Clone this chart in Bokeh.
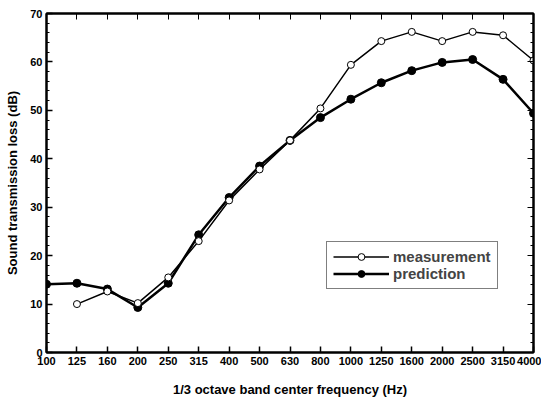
from bokeh.plotting import figure
from bokeh.models import FixedTicker, LinearAxis, Legend, LegendItem, Range1d, CustomJSTickFormatter
from bokeh.embed import file_html
from bokeh.resources import INLINE

freqs = ["100", "125", "160", "200", "250", "315", "400", "500", "630", "800",
         "1000", "1250", "1600", "2000", "2500", "3150", "4000"]
meas_freqs = freqs[1:]
measurement = [10.0, 12.6, 10.2, 15.5, 23.0, 31.4, 37.8, 43.8, 50.4,
               59.4, 64.3, 66.2, 64.3, 66.2, 65.5, 60.3]
prediction = [14.1, 14.3, 13.1, 9.3, 14.3, 24.3, 32.0, 38.5, 43.8, 48.5,
              52.3, 55.7, 58.2, 59.9, 60.5, 56.4, 49.4]

FONT = "Liberation Sans"
xidx = {f: i for i, f in enumerate(freqs)}
mx = [xidx[f] for f in meas_freqs]
px = [xidx[f] for f in freqs]

p = figure(width=541, height=399, output_backend="svg", toolbar_location=None,
           x_range=Range1d(0, len(freqs) - 1), y_range=Range1d(0, 70),
           min_border_left=46, min_border_right=8, min_border_top=13, min_border_bottom=46)
p.grid.visible = False
p.outline_line_color = "black"
p.outline_line_width = 2
p.background_fill_color = "white"
p.border_fill_color = "white"

ll = p.line(px, prediction, line_color="black", line_width=2.5)
ls = p.scatter(px, prediction, size=8, fill_color="black", line_color="black")
ml = p.line(mx, measurement, line_color="black", line_width=1.5)
ms = p.scatter(mx, measurement, size=7, fill_color="white", line_color="black", line_width=1)

xt = FixedTicker(ticks=list(range(len(freqs))), minor_ticks=[])
yt = FixedTicker(ticks=list(range(0, 71, 10)), minor_ticks=list(range(0, 71, 2)))

overrides = {i: f for i, f in enumerate(freqs)}
for ax in p.xaxis:
    ax.ticker = xt
    ax.major_label_overrides = overrides
for ax in p.yaxis:
    ax.ticker = yt

for ax in list(p.xaxis) + list(p.yaxis):
    ax.axis_line_width = 2
    ax.major_tick_in = 6
    ax.major_tick_out = 0
    ax.minor_tick_in = 3
    ax.minor_tick_out = 0
    ax.major_tick_line_width = 1.5
    ax.major_label_text_font = FONT
    ax.major_label_text_font_style = "bold"
    ax.major_label_text_font_size = "11px"
    ax.major_label_text_color = "black"
    ax.axis_label_text_font = FONT
    ax.axis_label_text_font_style = "bold"
    ax.axis_label_text_font_size = "13px"
    ax.axis_label_text_color = "black"
    ax.major_label_standoff = 4

p.xaxis.axis_label = "1/3 octave band center frequency (Hz)"
p.yaxis.axis_label = "Sound transmission loss (dB)"
p.xaxis.axis_label_standoff = 14
p.yaxis.axis_label_standoff = 7

blank = CustomJSTickFormatter(code="return '';")
right = LinearAxis(ticker=yt, formatter=blank, major_tick_in=6, major_tick_out=0,
                   minor_tick_in=3, minor_tick_out=0, axis_line_width=2, major_label_standoff=0)
top = LinearAxis(ticker=xt, formatter=blank, major_tick_in=6, major_tick_out=0,
                 axis_line_width=2, major_label_standoff=0)
p.add_layout(right, "right")
p.add_layout(top, "above")

legend = Legend(items=[LegendItem(label="measurement", renderers=[ml, ms]),
                       LegendItem(label="prediction", renderers=[ll, ls])],
                location=(280, 63), border_line_color="black", border_line_width=1,
                label_text_font=FONT, label_text_font_style="bold", label_text_font_size="15px",
                glyph_width=56, glyph_height=17, spacing=0, padding=6, margin=0,
                label_standoff=4, background_fill_alpha=1)
p.add_layout(legend, "center")

open("out.html", "w").write(file_html(p, INLINE))
